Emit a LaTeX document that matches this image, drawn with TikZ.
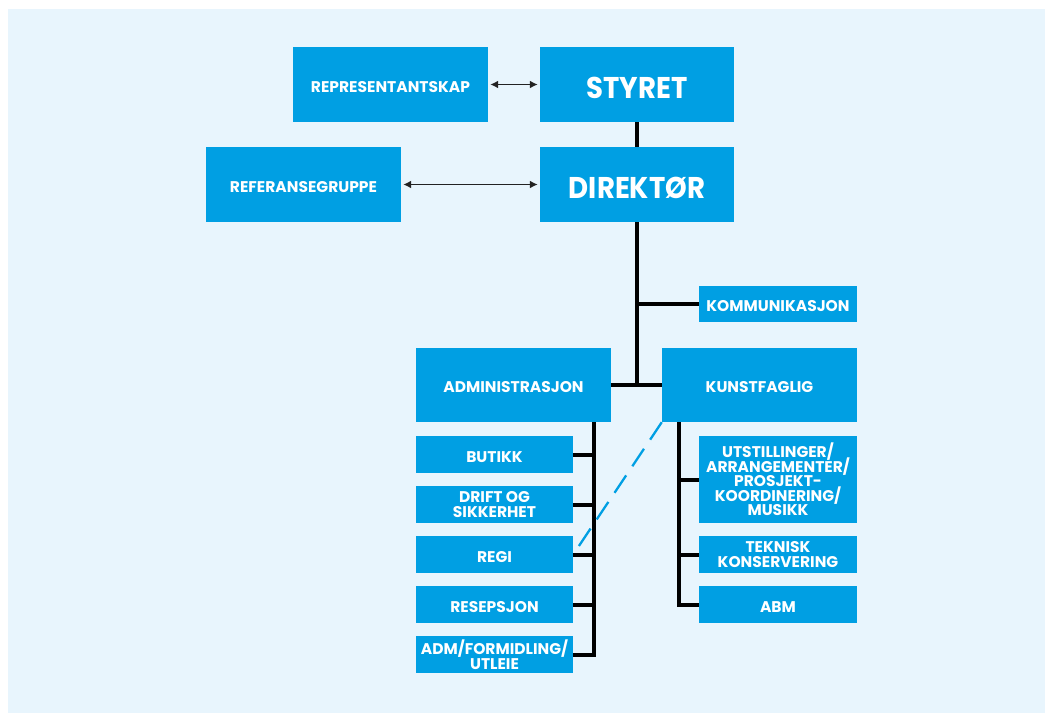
\documentclass[tikz,border=0pt]{standalone}
\usepackage{fontspec}
\setmainfont{Poppins}
\newfontfamily\boxfont{Poppins}
\newfontfamily\bigfont{Poppins}[FakeStretch=0.92]
\usetikzlibrary{arrows.meta}
\definecolor{bgblue}{HTML}{E8F5FD}
\definecolor{boxblue}{HTML}{009FE3}
\definecolor{arrgray}{HTML}{222222}
\newcommand\smallfnt{\boxfont\bfseries\fontsize{15.5}{14.5}\selectfont\lineskiplimit=-20pt\relax\lineskip=0pt\relax}
\newcommand\bigfnt{\bigfont\bfseries\fontsize{30}{30}\selectfont}
\newcommand\topstrut[1]{\vrule height #1 depth 0pt width 0pt\relax}
\tikzset{
  box/.style={fill=boxblue, text=white, inner sep=0pt, align=center,
    font=\smallfnt, execute at begin node={\topstrut{16pt}}},
  bigbox/.style={box, font=\bigfnt, execute at begin node={\topstrut{28pt}}},
  conn/.style={line width=4pt, black},
  arr/.style={line width=1.6pt, arrgray, {Latex[length=8pt,width=8pt]}-{Latex[length=8pt,width=8pt]}, shorten <=2pt, shorten >=2pt},
  dashln/.style={boxblue, line width=2.3pt, dash pattern=on 21pt off 11pt}
}
\begin{document}
\begin{tikzpicture}[x=1pt,y=-1pt]
\useasboundingbox (0,0) rectangle (1045,713);
\fill[bgblue] (8,9) rectangle (1045,713);
% top level
\node[box, minimum width=195pt, minimum height=75pt] (rep) at (390.5,84.5) {REPRESENTANTSKAP};
\node[bigbox, minimum width=194pt, minimum height=75pt] (styret) at (637,84.5) {STYRET};
\node[box, minimum width=195pt, minimum height=75pt] (ref) at (303.5,184.5) {REFERANSEGRUPPE};
\node[bigbox, minimum width=194pt, minimum height=75pt] (dir) at (637,184.5) {DIREKTØR};
\node[box, minimum width=158pt, minimum height=36pt] (komm) at (778,304) {KOMMUNIKASJON};
\node[box, minimum width=195pt, minimum height=74pt] (adm) at (513.5,385) {ADMINISTRASJON};
\node[box, minimum width=195pt, minimum height=74pt] (kunst) at (759.5,385) {KUNSTFAGLIG};
% admin sub boxes
\node[box, minimum width=157pt, minimum height=37pt] (butikk) at (494.5,454.5) {BUTIKK};
\node[box, minimum width=157pt, minimum height=37pt] (drift) at (494.5,504.5) {DRIFT OG\\SIKKERHET};
\node[box, minimum width=157pt, minimum height=37pt] (regi) at (494.5,554.5) {REGI};
\node[box, minimum width=157pt, minimum height=37pt] (resep) at (494.5,604.5) {RESEPSJON};
\node[box, minimum width=157pt, minimum height=37pt] (admf) at (494.5,654.5) {ADM/FORMIDLING/\\UTLEIE};
% kunst sub boxes
\node[box, minimum width=158pt, minimum height=87pt] (utst) at (778,479.5) {UTSTILLINGER/\\ARRANGEMENTER/\\PROSJEKT-\\KOORDINERING/\\MUSIKK};
\node[box, minimum width=158pt, minimum height=37pt] (tekn) at (778,554.5) {TEKNISK\\KONSERVERING};
\node[box, minimum width=158pt, minimum height=37pt] (abm) at (778,604.5) {ABM};
% arrows
\draw[arr] (rep.east) -- (styret.west);
\draw[arr] (ref.east) -- (dir.west);
% trunk
\draw[conn] (styret.south) -- (dir.north);
\draw[conn] (dir.south) -- (dir.south |- adm.east);
\draw[conn] (adm.east) -- (kunst.west);
\draw[conn] (dir.south |- komm.west) -- (komm.west);
% admin branch
\coordinate (atop) at (594,422);
\coordinate (ktop) at (679,422);
\draw[conn] (atop) |- (admf.east);
\foreach \n in {butikk,drift,regi,resep} \draw[conn] (\n.east) -- (\n.east -| atop);
\draw[conn] (ktop) |- (abm.west);
\foreach \n in {utst,tekn} \draw[conn] (\n.west) -- (\n.west -| ktop);
% dashed
\draw[dashln] (kunst.south west) -- (regi.east);
\end{tikzpicture}
\end{document}
